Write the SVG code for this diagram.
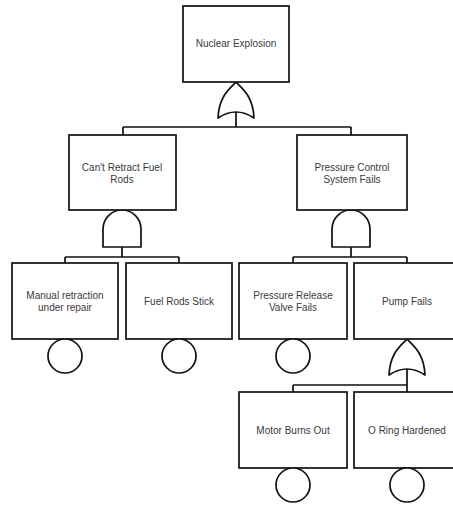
<svg xmlns="http://www.w3.org/2000/svg" width="453" height="506" viewBox="0 0 453 506">
  <defs>
    <style>
      .box { fill: #fff; stroke: #111; stroke-width: 1.7; }
      .gate { fill: #fff; stroke: #111; stroke-width: 1.7; stroke-linejoin: round; }
      .basic { fill: #fff; stroke: #111; stroke-width: 1.7; }
      .wire { fill: none; stroke: #111; stroke-width: 1.7; }
      .lbl { font-family: "Liberation Sans", Arial, sans-serif; font-size: 10px; fill: #3a3a3a; text-anchor: middle; }
    </style>
    <!-- OR gate, pointed apex at origin, 36 tall -->
    <path id="orGate" class="gate" d="M0,0 C5,6 17,13 18,36 Q0,24 -18,36 C-17,13 -5,6 0,0 Z"/>
    <!-- AND gate, top of dome at origin, 37 tall -->
    <path id="andGate" class="gate" d="M-19,37 L-19,19 A19,19 0 0 1 19,19 L19,37 Z"/>
  </defs>

  <rect width="453" height="506" fill="#fff"/>

  <g id="connectors">
    <!-- top event to level 2 -->
    <path class="wire" d="M236,112 V127 M123,127 H351 M123,127 V135 M351,127 V135"/>
    <!-- Can't Retract Fuel Rods to its inputs -->
    <path class="wire" d="M122,247 V257 M65,257 H179 M65,257 V263 M179,257 V263"/>
    <!-- Pressure Control System Fails to its inputs -->
    <path class="wire" d="M351,247 V257 M293,257 H407 M293,257 V263 M407,257 V263"/>
    <!-- Pump Fails to its inputs -->
    <path class="wire" d="M407,369 V385 M293,385 H407 M293,385 V392 M407,385 V392"/>
  </g>

  <g id="gates">
    <use href="#orGate" x="236" y="82"/>
    <use href="#andGate" x="122" y="210"/>
    <use href="#andGate" x="351" y="210"/>
    <use href="#orGate" x="407" y="339"/>
  </g>

  <g id="nuclear-explosion">
    <rect class="box" x="183" y="6" width="106" height="76"/>
    <text class="lbl" x="236" y="47">Nuclear Explosion</text>
  </g>

  <g id="cant-retract">
    <rect class="box" x="69" y="135" width="107" height="75"/>
    <text class="lbl" x="122" y="171">Can't Retract Fuel</text>
    <text class="lbl" x="122" y="183">Rods</text>
  </g>

  <g id="pressure-control">
    <rect class="box" x="297" y="135" width="110" height="75"/>
    <text class="lbl" x="352" y="171">Pressure Control</text>
    <text class="lbl" x="352" y="183">System Fails</text>
  </g>

  <g id="manual-retraction">
    <rect class="box" x="12" y="263" width="106" height="76"/>
    <text class="lbl" x="65" y="299">Manual retraction</text>
    <text class="lbl" x="65" y="311">under repair</text>
    <circle class="basic" cx="65" cy="356" r="17"/>
  </g>

  <g id="fuel-rods-stick">
    <rect class="box" x="126" y="263" width="106" height="76"/>
    <text class="lbl" x="179" y="305">Fuel Rods Stick</text>
    <circle class="basic" cx="179" cy="356" r="17"/>
  </g>

  <g id="pressure-release">
    <rect class="box" x="239" y="263" width="108" height="76"/>
    <text class="lbl" x="293" y="299">Pressure Release</text>
    <text class="lbl" x="293" y="311">Valve Fails</text>
    <circle class="basic" cx="293" cy="356" r="17"/>
  </g>

  <g id="pump-fails">
    <rect class="box" x="354" y="263" width="107" height="76"/>
    <text class="lbl" x="407" y="305">Pump Fails</text>
  </g>

  <g id="motor-burns-out">
    <rect class="box" x="239" y="392" width="108" height="76"/>
    <text class="lbl" x="293" y="434">Motor Burns Out</text>
    <circle class="basic" cx="293" cy="485" r="17"/>
  </g>

  <g id="o-ring-hardened">
    <rect class="box" x="354" y="392" width="107" height="76"/>
    <text class="lbl" x="407" y="434">O Ring Hardened</text>
    <circle class="basic" cx="407" cy="485" r="17"/>
  </g>
</svg>
